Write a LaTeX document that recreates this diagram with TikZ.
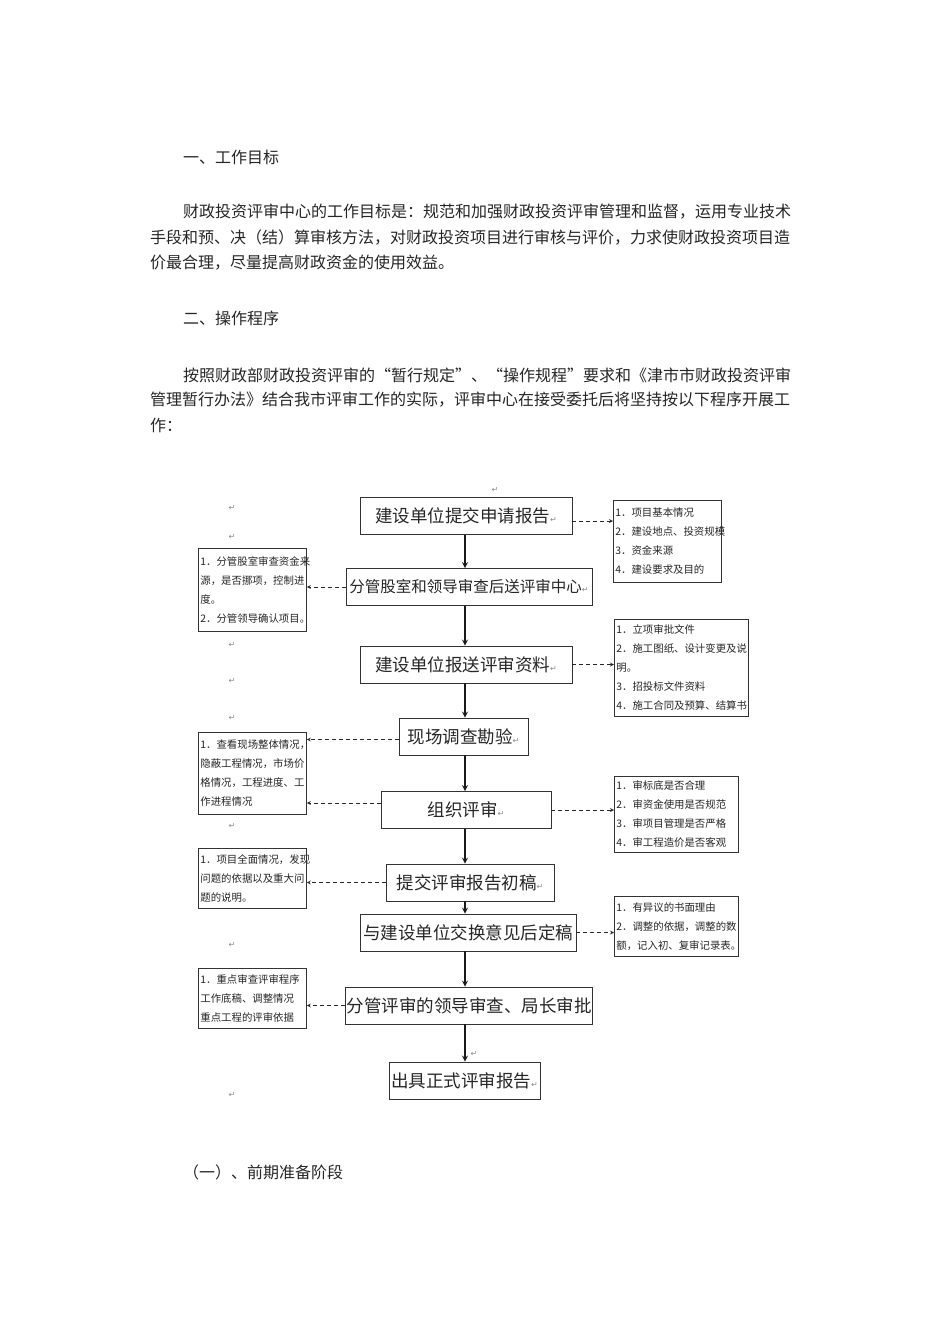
\documentclass[tikz,border=0pt]{standalone}
\usepackage{fontspec}
\usepackage{xcolor}
\setmainfont{Noto Sans CJK SC}
\newfontfamily\markfont{DejaVu Sans}
\newcommand{\pmark}{{\markfont\color{black!45}\fontsize{8}{8}\selectfont ↵}}

\tikzset{
  stepbox/.style={draw=black!80, line width=0.9pt, minimum height=37pt, inner sep=1pt,
    font=\fontsize{17.5}{18}\selectfont, text=black!85},
  notebox/.style={draw=black!80, line width=0.8pt, anchor=north west, align=left,
    inner sep=2pt, font=\fontsize{10.4}{19}\selectfont, text=black!85},
  flow/.style={->, line width=1.6pt, draw=black!90},
  notearrow/.style={->, dash pattern=on 4pt off 3pt, line width=0.8pt, draw=black!85},
  bodytext/.style={anchor=west, inner sep=0pt, font=\fontsize{16}{16}\selectfont, text=black!85},
  stray/.style={inner sep=0pt},
}

\begin{document}
\begin{tikzpicture}[x=1pt, y=-1pt, >=stealth]
\useasboundingbox (0,0) rectangle (950,1318);
\fill[white] (0,0) rectangle (950,1318);
% Page text
\node[bodytext] (goalhead) at (183,157) {一、工作目标};
\node[bodytext] (goal1) at (183,212) {财政投资评审中心的工作目标是：规范和加强财政投资评审管理和监督，运用专业技术};
\node[bodytext] (goal2) at (150,238) {手段和预、决（结）算审核方法，对财政投资项目进行审核与评价，力求使财政投资项目造};
\node[bodytext] (goal3) at (150,263) {价最合理，尽量提高财政资金的使用效益。};
\node[bodytext] (prochead) at (183,318) {二、操作程序};
\node[bodytext] (proc1) at (183,375) {按照财政部财政投资评审的“暂行规定”、“操作规程”要求和《津市市财政投资评审};
\node[bodytext] (proc2) at (150,400) {管理暂行办法》结合我市评审工作的实际，评审中心在接受委托后将坚持按以下程序开展工};
\node[bodytext] (proc3) at (150,425) {作：};
\node[bodytext] (stage) at (183,1172) {（一）、前期准备阶段};
% Main steps
\node[stepbox, minimum width=212pt] (apply) at (466,516) {建设单位提交申请报告\pmark};
\node[stepbox, minimum width=246pt, font=\fontsize{15.5}{16}\selectfont] (review) at (469,587) {分管股室和领导审查后送评审中心\pmark};
\node[stepbox, minimum width=212pt] (submit) at (466,664.5) {建设单位报送评审资料\pmark};
\node[stepbox, minimum width=129pt] (survey) at (463.5,736.5) {现场调查勘验\pmark};
\node[stepbox, minimum width=170pt] (organize) at (466,810) {组织评审\pmark};
\node[stepbox, minimum width=168pt] (draft) at (470,882.5) {提交评审报告初稿\pmark};
\node[stepbox, minimum width=216pt] (finalize) at (468,932.5) {与建设单位交换意见后定稿};
\node[stepbox, minimum width=246pt] (approve) at (469,1005.5) {分管评审的领导审查、局长审批};
\node[stepbox, minimum width=151pt] (issue) at (464.5,1080.5) {出具正式评审报告\pmark};
% Notes right
\node[notebox, text width=104pt, minimum height=82pt] (info) at (613,500)
  {1．项目基本情况\\2．建设地点、投资规模\\3．资金来源\\4．建设要求及目的};
\node[notebox, text width=130pt, minimum height=97pt] (docs) at (614,619)
  {1．立项审批文件\\2．施工图纸、设计变更及说\\明。\\3．招投标文件资料\\4．施工合同及预算、结算书};
\node[notebox, text width=120pt, minimum height=76pt] (check) at (614,776)
  {1．审标底是否合理\\2．审资金使用是否规范\\3．审项目管理是否严格\\4．审工程造价是否客观};
\node[notebox, text width=120pt, minimum height=60pt] (adjust) at (614,896)
  {1．有异议的书面理由\\2．调整的依据，调整的数\\额，记入初、复审记录表。};
% Notes left
\node[notebox, text width=104pt, minimum height=83pt] (fund) at (198,548)
  {1．分管股室审查资金来\\源，是否挪项，控制进\\度。\\2．分管领导确认项目。};
\node[notebox, text width=104pt, minimum height=82pt] (site) at (198,732)
  {1．查看现场整体情况，\\隐蔽工程情况，市场价\\格情况，工程进度、工\\作进程情况};
\node[notebox, text width=104pt, minimum height=60pt] (result) at (198,848)
  {1．项目全面情况，发现\\问题的依据以及重大问\\题的说明。};
\node[notebox, text width=104pt, minimum height=60pt] (focus) at (198,968)
  {1．重点审查评审程序\\工作底稿、调整情况\\重点工程的评审依据};
% Flow
\coordinate (spine) at (465,0);
\draw[flow] (apply.south -| spine) -- (review.north -| spine);
\draw[flow] (review.south -| spine) -- (submit.north -| spine);
\draw[flow] (submit.south -| spine) -- (survey.north -| spine);
\draw[flow] (survey.south -| spine) -- (organize.north -| spine);
\draw[flow] (organize.south -| spine) -- (draft.north -| spine);
\draw[flow] (draft.south -| spine) -- (finalize.north -| spine);
\draw[flow] (finalize.south -| spine) -- (approve.north -| spine);
\draw[flow] (approve.south -| spine) -- (issue.north -| spine);
% Notes
\draw[notearrow] ([yshift=-5pt]apply.east) -- ([yshift=-5pt]apply.east -| info.west);
\draw[notearrow] (review.west) -- (review.west -| fund.east);
\draw[notearrow] (submit.east) -- (submit.east -| docs.west);
\draw[notearrow] ([yshift=-3pt]survey.west) -- ([yshift=-3pt]survey.west -| site.east);
\draw[notearrow] ([yshift=7pt]organize.west) -- ([yshift=7pt]organize.west -| site.east);
\draw[notearrow] (organize.east) -- (organize.east -| check.west);
\draw[notearrow] (draft.west) -- (draft.west -| result.east);
\draw[notearrow] (finalize.east) -- (finalize.east -| adjust.west);
\draw[notearrow] (approve.west) -- (approve.west -| focus.east);
% Paragraph marks
\node[stray] (m1) at (232,508) {\pmark};
\node[stray] (m2) at (232,537) {\pmark};
\node[stray] (m3) at (232,645) {\pmark};
\node[stray] (m4) at (232,681) {\pmark};
\node[stray] (m5) at (232,718) {\pmark};
\node[stray] (m6) at (232,826) {\pmark};
\node[stray] (m7) at (232,945) {\pmark};
\node[stray] (m8) at (232,1095) {\pmark};
\node[stray] (m9) at (495,490) {\pmark};
\node[stray] (m10) at (474,1054) {\pmark};
\end{tikzpicture}
\end{document}
